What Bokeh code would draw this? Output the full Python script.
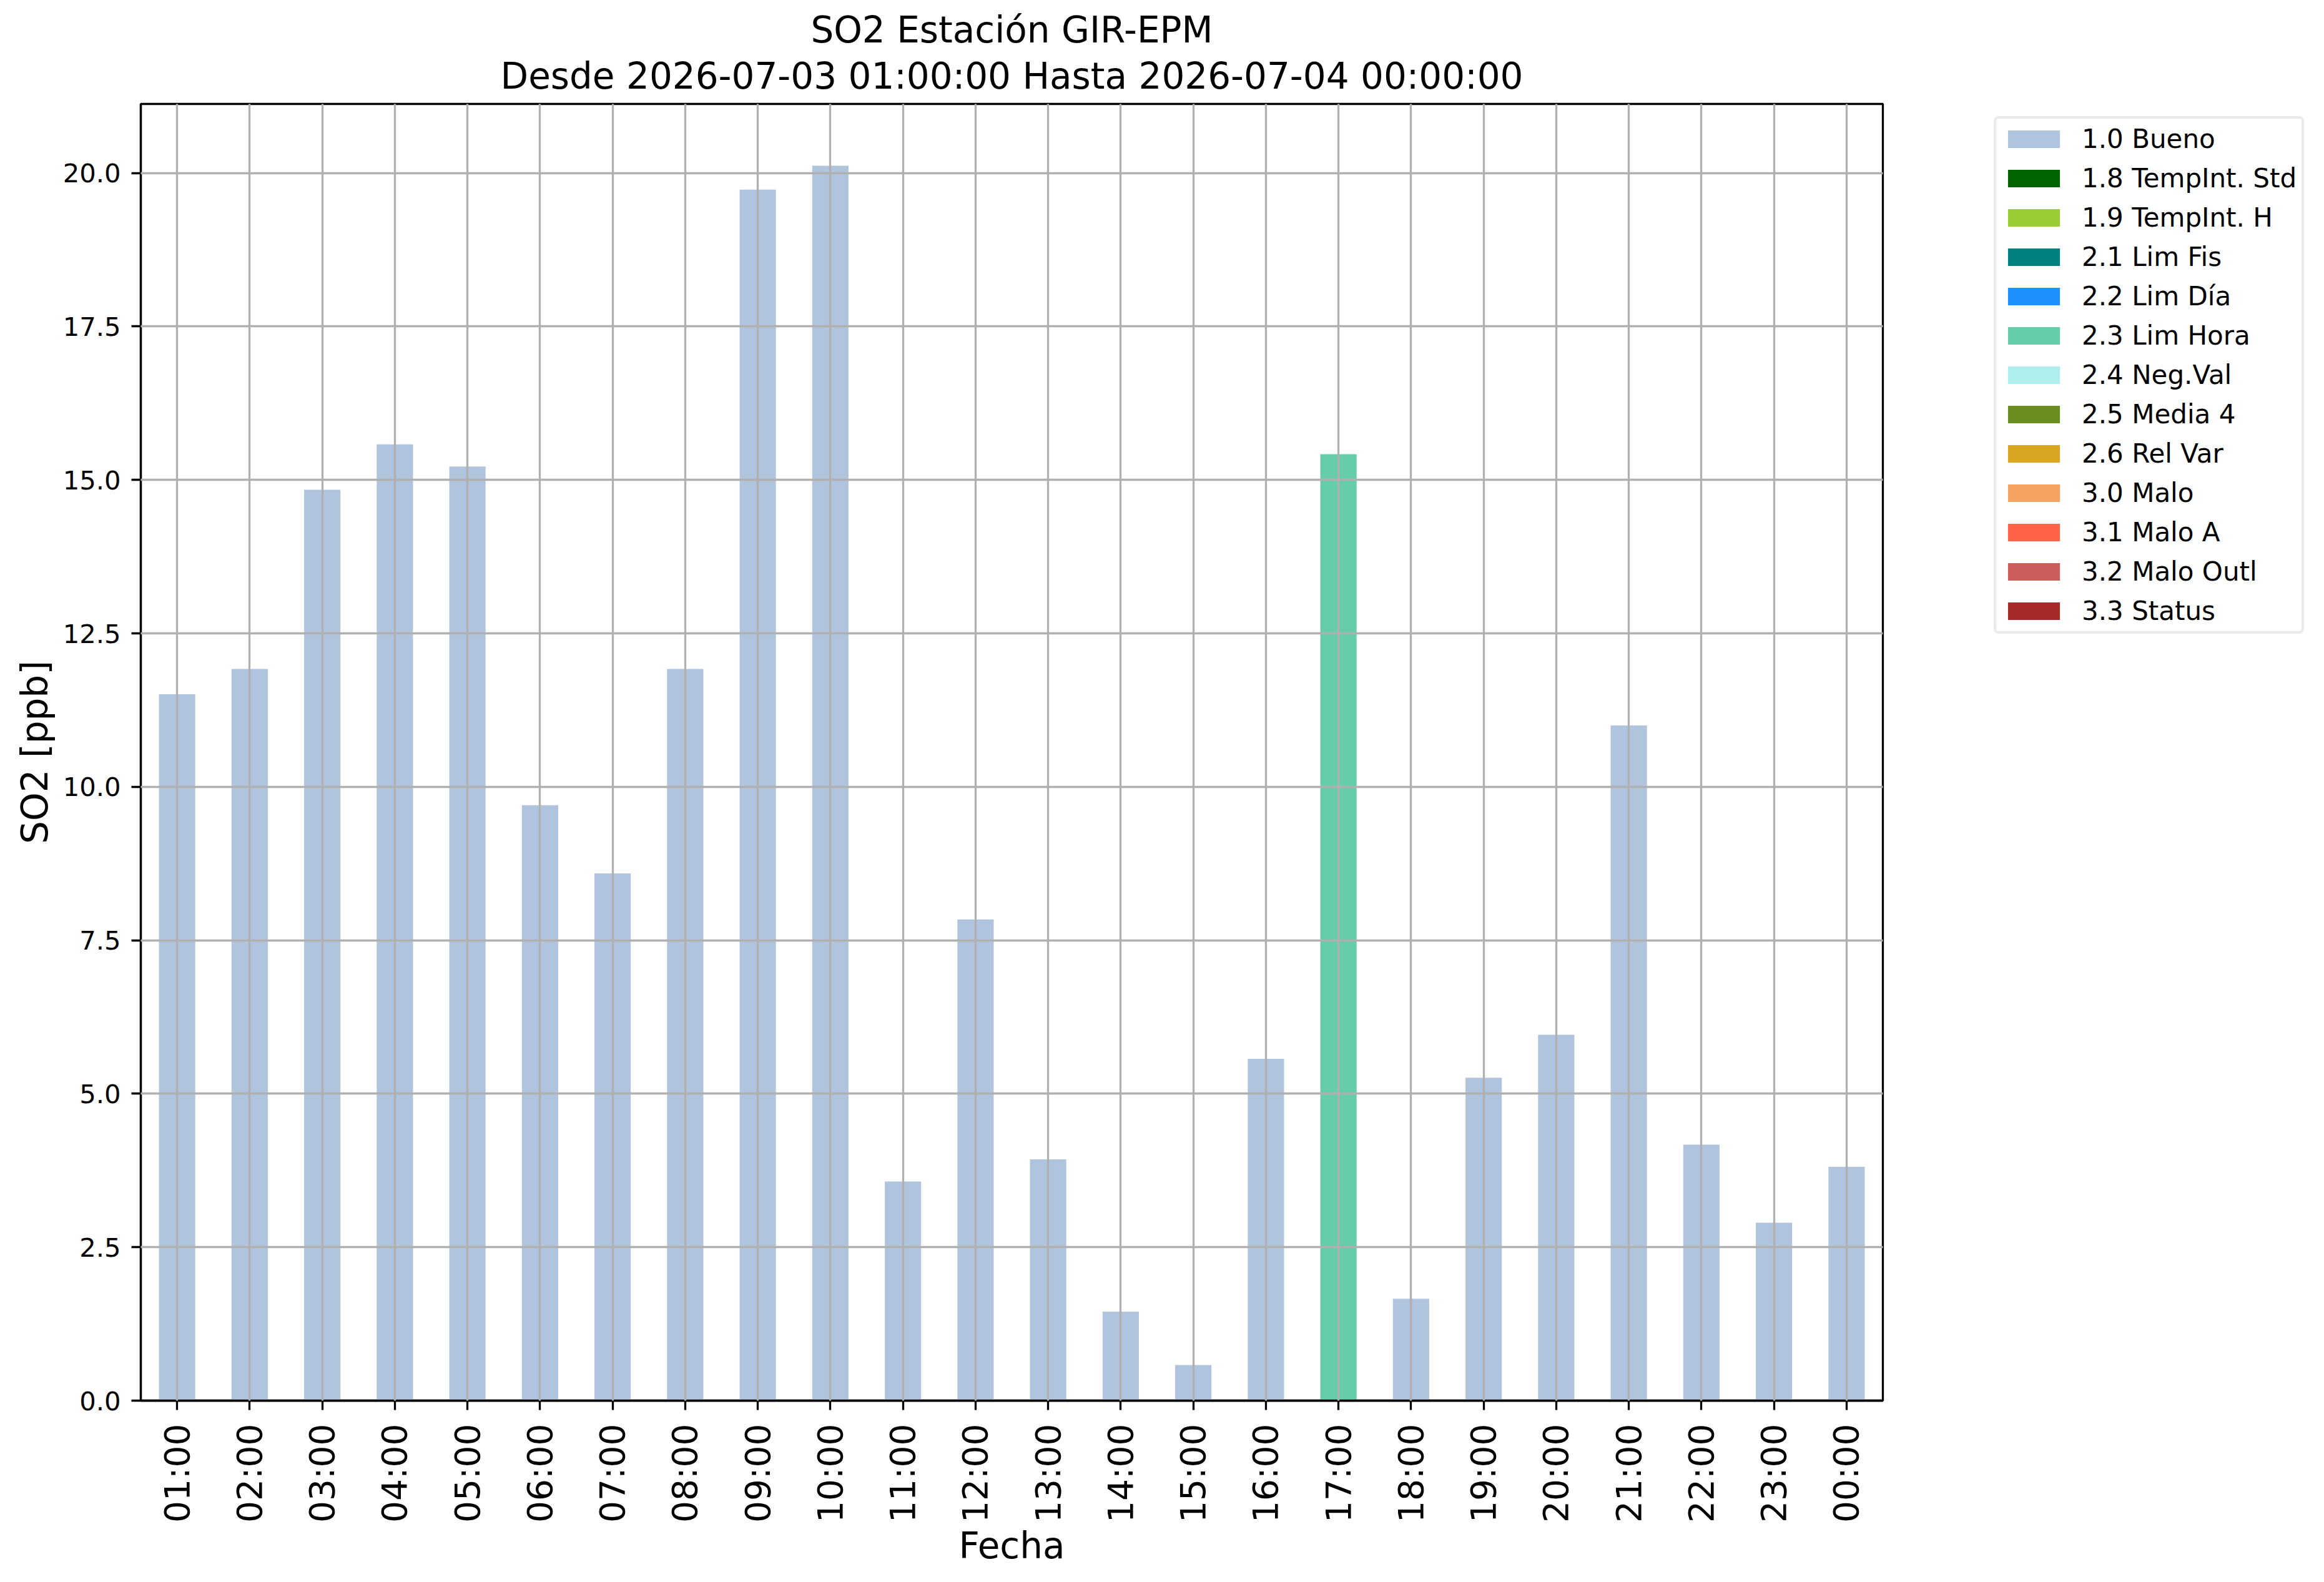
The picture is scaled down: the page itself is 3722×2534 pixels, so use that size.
import math
from bokeh.plotting import figure
from bokeh.layouts import row
from bokeh.models import (ColumnDataSource, FactorRange, Range1d, FixedTicker,
                          NumeralTickFormatter, Legend, LegendItem, Title)
from bokeh.embed import file_html
from bokeh.resources import INLINE

# ---------------- data ----------------
hours = ["01:00", "02:00", "03:00", "04:00", "05:00", "06:00", "07:00", "08:00",
         "09:00", "10:00", "11:00", "12:00", "13:00", "14:00", "15:00", "16:00",
         "17:00", "18:00", "19:00", "20:00", "21:00", "22:00", "23:00", "00:00"]
so2_ppb = [11.51, 11.92, 14.84, 15.58, 15.22, 9.70, 8.59, 11.92,
           19.73, 20.12, 3.57, 7.84, 3.93, 1.45, 0.58, 5.57,
           15.42, 1.66, 5.26, 5.96, 11.00, 4.17, 2.90, 3.81]
hour_flags = ["1.0", "1.0", "1.0", "1.0", "1.0", "1.0", "1.0", "1.0",
              "1.0", "1.0", "1.0", "1.0", "1.0", "1.0", "1.0", "1.0",
              "2.3", "1.0", "1.0", "1.0", "1.0", "1.0", "1.0", "1.0"]

flag_codes = ["1.0", "1.8", "1.9", "2.1", "2.2", "2.3", "2.4", "2.5", "2.6",
              "3.0", "3.1", "3.2", "3.3"]
flag_labels = ["1.0 Bueno", "1.8 TempInt. Std", "1.9 TempInt. H", "2.1 Lim Fis",
               "2.2 Lim Día", "2.3 Lim Hora", "2.4 Neg.Val", "2.5 Media 4",
               "2.6 Rel Var", "3.0 Malo", "3.1 Malo A", "3.2 Malo Outl", "3.3 Status"]
flag_colors = ["#B0C4DE", "#006400", "#9ACD32", "#008080", "#1E90FF", "#66CDAA",
               "#AFEEEE", "#6B8E23", "#DAA520", "#F4A460", "#FF6347", "#CD5C5C",
               "#A52A2A"]

y_ticks = [0.0, 2.5, 5.0, 7.5, 10.0, 12.5, 15.0, 17.5, 20.0]
y_max = 21.126

title_line1 = "SO2 Estación GIR-EPM"
title_line2 = "Desde 2026-07-03 01:00:00 Hasta 2026-07-04 00:00:00"
x_title = "Fecha"
y_title = "SO2 [ppb]"

FONT = "DejaVu Sans"

# ---------------- main figure ----------------
W, H = 3722, 2534
WP = 3038                      # width of the chart part
ML, MR, MT, MB = 225, 23, 166, 291
FRAME_BOTTOM = H - MB          # 2243

color_of = dict(zip(flag_codes, flag_colors))
src = ColumnDataSource(dict(x=hours, top=so2_ppb,
                            color=[color_of[f] for f in hour_flags]))

p = figure(x_range=FactorRange(factors=hours), y_range=Range1d(0, y_max),
           width=WP, height=H, title=None,
           output_backend="svg", toolbar_location=None,
           min_border_left=ML, min_border_right=MR,
           min_border_top=MT, min_border_bottom=MB)
p.x_range.range_padding = 0
p.vbar(x="x", top="top", bottom=0, width=0.5, source=src,
       fill_color="color", line_color=None)

lw = 3.3
for ax in (p.xaxis[0], p.yaxis[0]):
    ax.axis_line_width = lw
    ax.axis_line_color = "black"
    ax.major_tick_line_width = lw
    ax.major_tick_line_color = "black"
    ax.major_tick_out = 15
    ax.major_tick_in = 0
    ax.minor_tick_out = 0
    ax.minor_tick_in = 0
    ax.major_label_text_font = FONT
    ax.major_label_text_color = "black"
    ax.axis_label_text_font = FONT
    ax.axis_label_text_font_size = "58px"
    ax.axis_label_text_font_style = "normal"
    ax.axis_label_text_color = "black"

p.xaxis.major_label_orientation = math.pi / 2
p.xaxis.major_label_text_font_size = "55px"
p.xaxis.major_label_standoff = 22
p.xaxis.axis_label = x_title
p.xaxis.axis_label_standoff = 0

p.yaxis.ticker = FixedTicker(ticks=y_ticks)
p.yaxis.formatter = NumeralTickFormatter(format="0.0")
p.yaxis.major_label_text_font_size = "41.7px"
p.yaxis.major_label_standoff = 17
p.yaxis.axis_label = y_title
p.yaxis.axis_label_standoff = 8

for g in (p.xgrid[0], p.ygrid[0]):
    g.grid_line_color = "#b0b0b0"
    g.grid_line_width = lw
    g.level = "annotation"
p.ygrid.ticker = FixedTicker(ticks=y_ticks)

p.outline_line_color = "black"
p.outline_line_width = lw
p.background_fill_color = "white"
p.border_fill_color = "white"

# two-line title (the one added last sits on top)
p.add_layout(Title(text=title_line2, align="center", text_font=FONT,
                   text_font_size="58px", text_font_style="normal",
                   text_color="black", standoff=22), "above")
p.add_layout(Title(text=title_line1, align="center", text_font=FONT,
                   text_font_size="58px", text_font_style="normal",
                   text_color="black", standoff=-14), "above")

# ---------------- legend panel ----------------
q = figure(x_range=FactorRange(factors=flag_codes), y_range=Range1d(0, 1),
           width=W - WP, height=H, title=None,
           x_axis_type=None, y_axis_type=None,
           output_backend="svg", toolbar_location=None, min_border=0)
q.outline_line_color = None
q.background_fill_color = "white"
q.border_fill_color = "white"
lsrc = ColumnDataSource(dict(x=flag_codes, top=[0.0] * len(flag_codes),
                             color=flag_colors))
proxy = q.vbar(x="x", top="top", bottom=0, width=0.5, source=lsrc,
               fill_color="color", line_color=None)

items = [LegendItem(label=lab, renderers=[proxy], index=i)
         for i, lab in enumerate(flag_labels)]
# the legend frame is aligned with the chart frame (bottom at FRAME_BOTTOM)
legend = Legend(items=items, location=(3193 - WP, FRAME_BOTTOM - 1015))
legend.label_text_font = FONT
legend.label_text_font_size = "42px"
legend.label_text_color = "black"
legend.glyph_width = 104
legend.glyph_height = 35
legend.label_height = 35
legend.label_standoff = 25
legend.spacing = 14
legend.padding = 8
legend.margin = 0
legend.border_line_color = "#d6d6d6"
legend.border_line_width = 4
legend.background_fill_color = "white"
legend.background_fill_alpha = 1.0
if "border_radius" in Legend.properties():
    legend.border_radius = 8
q.add_layout(legend, "center")

layout = row(p, q, spacing=0)
open("out.html", "w").write(file_html(layout, INLINE))
